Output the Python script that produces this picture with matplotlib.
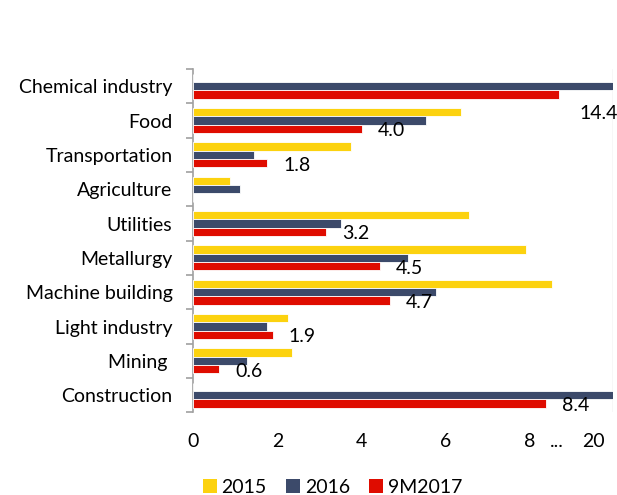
import matplotlib
matplotlib.use("Agg")
import matplotlib.pyplot as plt
from matplotlib.patches import Patch
import numpy as np

categories = ["Chemical industry", "Food", "Transportation", "Agriculture", "Utilities",
              "Metallurgy", "Machine building", "Light industry", "Mining ", "Construction"]
# bar lengths as drawn on the (broken) axis
v2015 = [0, 6.37, 3.75, 0.87, 6.57, 7.91, 8.54, 2.25, 2.34, 0]
v2016 = [10.5, 5.53, 1.45, 1.10, 3.52, 5.12, 5.77, 1.75, 1.28, 10.5]
v9m2017 = [8.70, 4.01, 1.76, 0, 3.16, 4.45, 4.68, 1.89, 0.61, 8.40]
labels_9m2017 = ["14.4", "4.0", "1.8", "", "3.2", "4.5", "4.7", "1.9", "0.6", "8.4"]
series_names = ["2015", "2016", "9M2017"]
xtick_pos = [0, 2, 4, 6, 8, 8.65, 9.52]
xtick_labels = ["0", "2", "4", "6", "8", "...", "20"]

colors = ["#FCD20F", "#3C4A6A", "#DF0C00"]
FONT = "Lato"
FS = 14

fig = plt.figure(figsize=(6.17, 4.95), dpi=100)
ax = fig.add_axes([0.3133, 0.167, 0.994 - 0.3133, 0.8606 - 0.167])

y = np.arange(len(categories))
h = 0.243
for vals, off, c in zip([v2015, v2016, v9m2017], [-h, 0, h], colors):
    ax.barh(y + off, vals, height=h, color=c, edgecolor="white", linewidth=0.6, zorder=3)

for i, (v, lab) in enumerate(zip(v9m2017, labels_9m2017)):
    if not lab:
        continue
    if i == 0:
        off = (21, -19)
    else:
        off = (16, -2)
    ax.annotate(lab, (v, y[i] + h), xytext=off, textcoords="offset pixels",
                ha="left", va="center", fontsize=FS, family=FONT, color="black",
                annotation_clip=False, zorder=5)

ax.set_xlim(0, 10)
ax.set_ylim(len(categories) - 0.5, -0.5)

ax.set_yticks(y)
ax.set_yticklabels(categories, family=FONT, fontsize=FS)
ax.set_yticks(np.arange(-0.5, len(categories), 1), minor=True)
ax.tick_params(axis="y", which="major", length=0, pad=15)
ax.tick_params(axis="y", which="minor", length=5, color="#A0A0A0", width=1.2)

ax.set_xticks(xtick_pos)
ax.set_xticklabels(xtick_labels, family=FONT, fontsize=FS)
ax.set_xticks([2, 4, 6, 8, 10], minor=True)
ax.tick_params(axis="x", which="both", length=0, pad=15)
ax.xaxis.grid(True, which="minor", color="#D9D9D9", linewidth=1, zorder=0)
ax.xaxis.grid(False, which="major")

for s in ["top", "right", "bottom"]:
    ax.spines[s].set_visible(False)
ax.spines["left"].set_color("#A0A0A0")
ax.spines["left"].set_linewidth(1.2)

handles = [Patch(facecolor=c, edgecolor="none") for c in colors]
fig.legend(handles, series_names, loc="center", bbox_to_anchor=(0.539, 0.015),
           ncol=3, frameon=False, prop={"family": FONT, "size": FS},
           handlelength=0.7, handleheight=0.7, handletextpad=0.25, columnspacing=1.0,
           borderpad=0)

fig.savefig("out.png", dpi=100)
